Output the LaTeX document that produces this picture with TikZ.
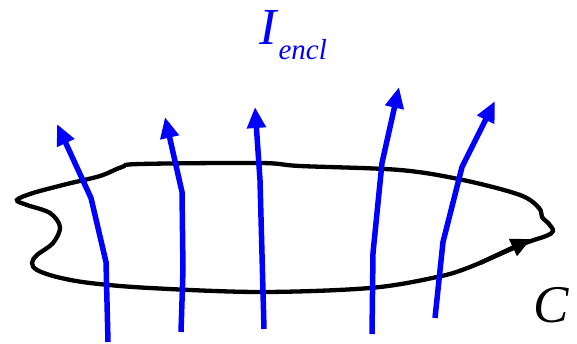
\documentclass[tikz,border=0pt]{standalone}
\usepackage{fontspec}
\setmainfont{Liberation Serif}
\usetikzlibrary{arrows.meta}
\tikzset{
  flux/.style={draw=blue, line width=5.5pt, line join=miter, -{Triangle[length=21pt,width=18pt]}},
  loopline/.style={draw=black, line width=4.3pt},
  looptip/.style={draw=black, line width=4.3pt, -{Triangle[length=20pt,width=18pt]}},
}
\begin{document}
\begin{tikzpicture}[x=1pt,y=-1pt]
\useasboundingbox (0,0) rectangle (577,343);
% closed curve C
\draw[loopline] plot[smooth cycle, tension=0.55] coordinates {
 (17,200) (27,205) (50,213) (60,227) (53,243) (37,255) (32,263) (37,270) (57,277) (90,283)
 (150,288) (260,292) (370,288) (437,277) (470,267) (523,244) (546,236) (553,231)
 (549,224) (542,217) (539,208) (520,195) (463,180) (400,170) (300,166) (260,163)
 (140,164) (122,167) (100,176) (67,184) (33,193)};
\coordinate (ta) at (480,263);
\coordinate (tb) at (531,239);
\draw[looptip] (ta) -- (tb);
% flux lines
\draw[flux] (108,342) -- (106,262) -- (91,198) -- (57,124);
\draw[flux] (181,332) -- (183,270) -- (182,192) -- (165,117);
\draw[flux] (264,329) -- (260,180) -- (255,107);
\draw[flux] (372,334) -- (373,253) -- (382,163) -- (399,87);
\draw[flux] (435,318) -- (443,242) -- (462,167) -- (495,101);
% labels
\node[anchor=base west, inner sep=0pt, text=blue] (iencl) at (259,44)
  {\fontsize{52}{52}\selectfont\itshape I\hspace{2pt}\raisebox{-15pt}{\fontsize{29}{29}\selectfont encl}};
\node[anchor=base west, inner sep=0pt] (clabel) at (533,322)
  {\fontsize{53}{53}\selectfont\itshape C};
\end{tikzpicture}
\end{document}
